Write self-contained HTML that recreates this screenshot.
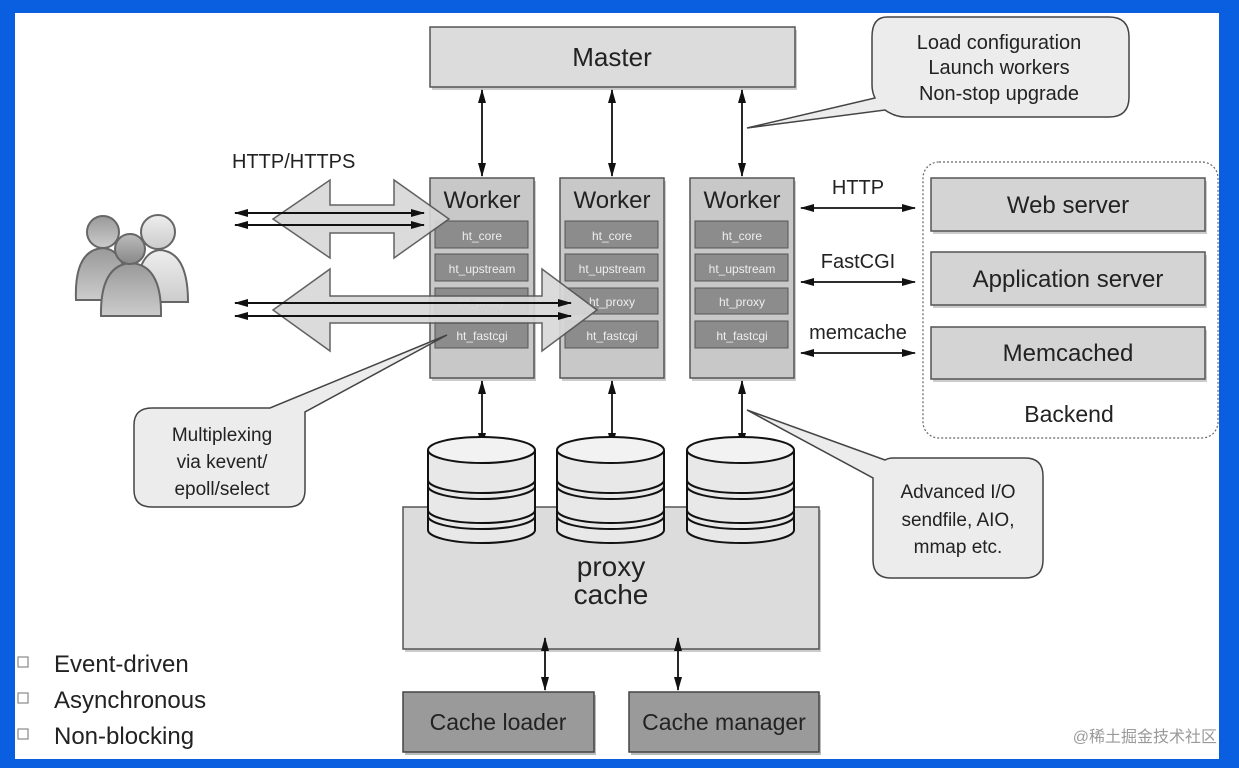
<!DOCTYPE html>
<html><head><meta charset="utf-8"><style>
html,body{margin:0;padding:0;background:#0a5ee0;}
svg{display:block;}
text{font-family:"Liberation Sans","Noto Sans CJK SC",sans-serif;fill:#222;}
</style></head><body>
<svg width="1239" height="768" viewBox="0 0 1239 768" xmlns="http://www.w3.org/2000/svg">
<defs>
<marker id="ah" markerWidth="10" markerHeight="10" refX="9" refY="5" orient="auto-start-reverse" markerUnits="userSpaceOnUse"><path d="M0,1 L10,5 L0,9 Z" fill="#111"/></marker>
<marker id="ah2" markerWidth="14" markerHeight="10" refX="13" refY="5" orient="auto-start-reverse" markerUnits="userSpaceOnUse"><path d="M0,1 L14,5 L0,9 Z" fill="#111"/></marker>
<linearGradient id="g1" x1="0" y1="0" x2="0" y2="1"><stop offset="0" stop-color="#bbb"/><stop offset="1" stop-color="#888"/></linearGradient>
<linearGradient id="g2" x1="0" y1="0" x2="0" y2="1"><stop offset="0" stop-color="#eee"/><stop offset="1" stop-color="#ccc"/></linearGradient>
<linearGradient id="g3" x1="0" y1="0" x2="0" y2="1"><stop offset="0" stop-color="#999"/><stop offset="1" stop-color="#ccc"/></linearGradient>
</defs>
<rect x="15" y="13" width="1204" height="746" fill="#fff"/>

<!-- Master -->
<rect x="432" y="30" width="365" height="60" fill="#999" opacity="0.5"/>
<rect x="430" y="27" width="365" height="60" fill="#dcdcdc" stroke="#555" stroke-width="1.5"/>
<text x="612" y="66" font-size="26" text-anchor="middle">Master</text>

<!-- callout top right -->
<path d="M887,17 H1109 Q1129,17 1129,37 V97 Q1129,117 1109,117 H905 Q895,117 885,110 L747,128 L875,98 Q872,92 872,85 V37 Q872,17 887,17 Z" fill="#ececec" stroke="#444" stroke-width="1.5"/>
<text x="999" y="49" font-size="20" text-anchor="middle">Load configuration</text>
<text x="999" y="74" font-size="20" text-anchor="middle">Launch workers</text>
<text x="999" y="100" font-size="20" text-anchor="middle">Non-stop upgrade</text>

<!-- master-worker arrows -->
<g stroke="#111" stroke-width="1.8" fill="none">
<line x1="482" y1="90" x2="482" y2="176" marker-start="url(#ah2)" marker-end="url(#ah2)"/>
<line x1="612" y1="90" x2="612" y2="176" marker-start="url(#ah2)" marker-end="url(#ah2)"/>
<line x1="742" y1="90" x2="742" y2="176" marker-start="url(#ah2)" marker-end="url(#ah2)"/>
<line x1="482" y1="381" x2="482" y2="446" marker-start="url(#ah2)" marker-end="url(#ah2)"/>
<line x1="612" y1="381" x2="612" y2="446" marker-start="url(#ah2)" marker-end="url(#ah2)"/>
<line x1="742" y1="381" x2="742" y2="446" marker-start="url(#ah2)" marker-end="url(#ah2)"/>
</g>

<!-- Workers -->
<g id="w">
<rect x="432" y="181" width="104" height="200" fill="#999" opacity="0.5"/>
<rect x="430" y="178" width="104" height="200" fill="#c8c8c8" stroke="#555" stroke-width="1.5"/>
<text x="482" y="208" font-size="24" text-anchor="middle">Worker</text>
<rect x="435" y="221" width="93" height="27" fill="#8c8c8c" stroke="#555"/>
<text x="482" y="240" font-size="12" text-anchor="middle" style="fill:#eee">ht_core</text>
<rect x="435" y="254" width="93" height="27" fill="#8c8c8c" stroke="#555"/>
<text x="482" y="273" font-size="12" text-anchor="middle" style="fill:#eee">ht_upstream</text>
<rect x="435" y="288" width="93" height="26" fill="#8c8c8c" stroke="#555"/>
<text x="482" y="306" font-size="12" text-anchor="middle" style="fill:#eee">ht_proxy</text>
<rect x="435" y="321" width="93" height="27" fill="#8c8c8c" stroke="#555"/>
<text x="482" y="340" font-size="12" text-anchor="middle" style="fill:#eee">ht_fastcgi</text>
</g>
<use href="#w" x="130"/>
<use href="#w" x="260"/>

<!-- big hollow arrows -->
<path d="M273,219 L330,180 L330,205 L394,205 L394,180 L449,219 L394,258 L394,233 L330,233 L330,258 Z" fill="#d8d8d8" stroke="#555" stroke-width="1.5" opacity="0.92"/>
<path d="M273,310 L330,269 L330,296 L542,296 L542,269 L597,310 L542,351 L542,323 L330,323 L330,351 Z" fill="#d8d8d8" stroke="#555" stroke-width="1.5" opacity="0.92"/>
<g stroke="#111" stroke-width="2" fill="none">
<line x1="235" y1="213" x2="424" y2="213" marker-start="url(#ah2)" marker-end="url(#ah2)"/>
<line x1="235" y1="225" x2="424" y2="225" marker-start="url(#ah2)" marker-end="url(#ah2)"/>
<line x1="235" y1="303" x2="571" y2="303" marker-start="url(#ah2)" marker-end="url(#ah2)"/>
<line x1="235" y1="316" x2="571" y2="316" marker-start="url(#ah2)" marker-end="url(#ah2)"/>
</g>
<text x="232" y="168" font-size="20">HTTP/HTTPS</text>

<!-- users -->
<g stroke="#666" stroke-width="2">
<path d="M76,300 Q74,250 103,248 Q128,250 128,300 Z" fill="url(#g3)"/>
<circle cx="103" cy="232" r="16" fill="url(#g3)"/>
<path d="M136,302 Q136,252 160,250 Q188,252 188,302 Z" fill="url(#g2)"/>
<circle cx="158" cy="232" r="17" fill="url(#g2)"/>
<path d="M101,316 Q100,265 131,263 Q162,265 161,316 Z" fill="url(#g3)"/>
<circle cx="130" cy="249" r="15" fill="url(#g1)"/>
</g>

<!-- multiplexing callout -->
<path d="M152,408 H270 L447,335 L305,412 V490 Q305,507 288,507 H152 Q134,507 134,490 V425 Q134,408 152,408 Z" fill="#ececec" stroke="#444" stroke-width="1.5"/>
<text x="222" y="441" font-size="19" text-anchor="middle">Multiplexing</text>
<text x="222" y="468" font-size="19" text-anchor="middle">via kevent/</text>
<text x="222" y="495" font-size="19" text-anchor="middle">epoll/select</text>

<!-- backend -->
<rect x="923" y="162" width="295" height="276" rx="16" fill="none" stroke="#666" stroke-width="1.2" stroke-dasharray="2,2"/>
<g>
<rect x="933" y="181" width="274" height="53" fill="#999" opacity="0.5"/>
<rect x="931" y="178" width="274" height="53" fill="#d4d4d4" stroke="#555" stroke-width="1.5"/>
<text x="1068" y="213" font-size="24" text-anchor="middle">Web server</text>
<rect x="933" y="255" width="274" height="53" fill="#999" opacity="0.5"/>
<rect x="931" y="252" width="274" height="53" fill="#d4d4d4" stroke="#555" stroke-width="1.5"/>
<text x="1068" y="287" font-size="24" text-anchor="middle">Application server</text>
<rect x="933" y="330" width="274" height="52" fill="#999" opacity="0.5"/>
<rect x="931" y="327" width="274" height="52" fill="#d4d4d4" stroke="#555" stroke-width="1.5"/>
<text x="1068" y="361" font-size="24" text-anchor="middle">Memcached</text>
<text x="1069" y="422" font-size="23" text-anchor="middle">Backend</text>
</g>
<g stroke="#111" stroke-width="1.8" fill="none">
<line x1="801" y1="208" x2="915" y2="208" marker-start="url(#ah2)" marker-end="url(#ah2)"/>
<line x1="801" y1="282" x2="915" y2="282" marker-start="url(#ah2)" marker-end="url(#ah2)"/>
<line x1="801" y1="353" x2="915" y2="353" marker-start="url(#ah2)" marker-end="url(#ah2)"/>
</g>
<text x="858" y="194" font-size="20" text-anchor="middle">HTTP</text>
<text x="858" y="268" font-size="20" text-anchor="middle">FastCGI</text>
<text x="858" y="339" font-size="20" text-anchor="middle">memcache</text>

<!-- advanced IO callout -->
<path d="M893,458 H1025 Q1043,458 1043,476 V560 Q1043,578 1025,578 H891 Q873,578 873,560 V478 L747,410 L885,460 Q888,458 893,458 Z" fill="#ececec" stroke="#444" stroke-width="1.5"/>
<text x="958" y="498" font-size="19" text-anchor="middle">Advanced I/O</text>
<text x="958" y="526" font-size="19" text-anchor="middle">sendfile, AIO,</text>
<text x="958" y="553" font-size="19" text-anchor="middle">mmap etc.</text>

<!-- proxy cache -->
<rect x="405" y="510" width="416" height="142" fill="#999" opacity="0.5"/>
<rect x="403" y="507" width="416" height="142" fill="#dcdcdc" stroke="#555" stroke-width="1.5"/>
<text x="611" y="576" font-size="28" text-anchor="middle">proxy</text>
<text x="611" y="604" font-size="28" text-anchor="middle">cache</text>

<!-- cylinders -->
<g id="cyl" stroke="#111" stroke-width="2">
<path d="M428,450 V530 A53.5,13 0 0 0 535,530 V450" fill="#e8e8e8"/>
<path d="M428,480 A53.5,13 0 0 0 535,480" fill="none"/>
<path d="M428,486 A53.5,13 0 0 0 535,486" fill="none"/>
<path d="M428,510 A53.5,13 0 0 0 535,510" fill="none"/>
<path d="M428,516 A53.5,13 0 0 0 535,516" fill="none"/>
<ellipse cx="481.5" cy="450" rx="53.5" ry="13" fill="#f2f2f2"/>
</g>
<use href="#cyl" x="129"/>
<use href="#cyl" x="259"/>

<g stroke="#111" stroke-width="1.8" fill="none">
<line x1="545" y1="638" x2="545" y2="690" marker-start="url(#ah2)" marker-end="url(#ah2)"/>
<line x1="678" y1="638" x2="678" y2="690" marker-start="url(#ah2)" marker-end="url(#ah2)"/>
</g>
<rect x="405" y="695" width="191" height="60" fill="#777" opacity="0.5"/>
<rect x="403" y="692" width="191" height="60" fill="#9a9a9a" stroke="#444" stroke-width="1.5"/>
<text x="498" y="730" font-size="23" text-anchor="middle">Cache loader</text>
<rect x="631" y="695" width="190" height="60" fill="#777" opacity="0.5"/>
<rect x="629" y="692" width="190" height="60" fill="#9a9a9a" stroke="#444" stroke-width="1.5"/>
<text x="724" y="730" font-size="23" text-anchor="middle">Cache manager</text>

<!-- bullets -->
<g fill="none" stroke="#888" stroke-width="1.2">
<rect x="18" y="657" width="10" height="10"/>
<rect x="18" y="693" width="10" height="10"/>
<rect x="18" y="729" width="10" height="10"/>
</g>
<text x="54" y="672" font-size="24">Event-driven</text>
<text x="54" y="708" font-size="24">Asynchronous</text>
<text x="54" y="744" font-size="24">Non-blocking</text>

<text x="1217" y="742" font-size="16" text-anchor="end" style="fill:#999">@稀土掘金技术社区</text>
</svg>
</body></html>
